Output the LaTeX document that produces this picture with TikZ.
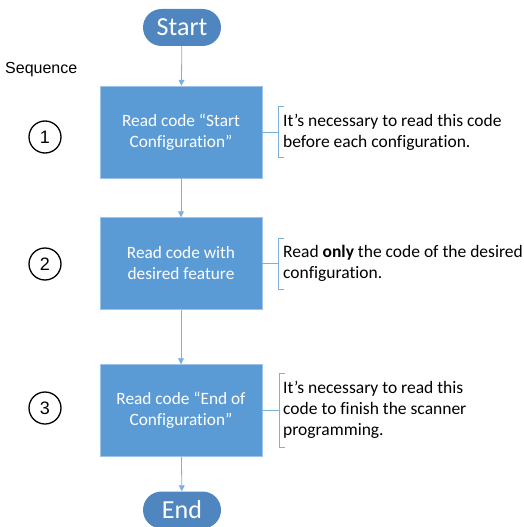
\documentclass[tikz,border=0pt]{standalone}
\usepackage{fontspec}
\setmainfont{Carlito}[Ligatures={NoCommon}]
\newfontfamily\arialf{Liberation Sans}
\usetikzlibrary{arrows.meta,shapes.misc}
\definecolor{boxblue}{HTML}{5B9BD5}
\definecolor{pillblue}{HTML}{4F86BF}
\definecolor{lineblue}{HTML}{7EB0DE}
\begin{document}
\begin{tikzpicture}[x=1pt,y=-1pt,
  stepbox/.style={draw=boxblue!60!white,fill=boxblue,text=white,minimum width=162pt,minimum height=92pt,align=center,font=\fontsize{17.3}{21}\selectfont,inner sep=0pt},
  pill/.style={rounded rectangle,fill=pillblue,text=white,minimum width=78pt,minimum height=37pt,font=\fontsize{26}{28}\selectfont,inner sep=0pt},
  seqnum/.style={circle,draw=black,line width=1.3pt,minimum size=32pt,inner sep=0pt,font=\arialf\fontsize{18}{18}\selectfont},
  note/.style={anchor=west,align=left,font=\fontsize{17.5}{21}\selectfont,inner sep=0pt},
  flow/.style={draw=lineblue,line width=0.8pt,-{Triangle[width=6pt,length=6pt]}},
  brk/.style={draw=lineblue,line width=0.8pt}]
\useasboundingbox (0,0) rectangle (523,527);
\node[pill] (start) at (182,27.5) {Start};
\node[stepbox] (s1) at (181,132) {Read code “Start\\Configuration”};
\node[stepbox] (s2) at (181,263.5) {Read code with\\desired feature};
\node[stepbox] (s3) at (181,410.5) {Read code “End of\\Configuration”};
\node[pill] (end) at (182,510) {End};
\node[anchor=west,inner sep=0pt,font=\arialf\fontsize{16}{16}\selectfont] (seq) at (5,70) {Sequence};
\node[seqnum] (n1) at (45,137) {1};
\node[seqnum] (n2) at (45,264) {2};
\node[seqnum] (n3) at (45,408) {3};
\draw[flow] (start) -- (s1);
\draw[flow] (s1) -- (s2);
\draw[flow] (s2) -- (s3);
\draw[flow] (s3) -- (end);
% brackets
\coordinate (b1) at (278,132);
\coordinate (b2) at (278,263.5);
\coordinate (b3) at (279,410.5);
\draw[brk] (s1.east) -- (b1);
\draw[brk] (284,106) -- (278,106) -- (278,157) -- (284,157);
\draw[brk] (s2.east) -- (b2);
\draw[brk] (284,238) -- (278,238) -- (278,289) -- (284,289);
\draw[brk] (s3.east) -- (b3);
\draw[brk] (285,373) -- (279,373) -- (279,447) -- (285,447);
\node[note] (t1) at (283,132) {It’s necessary to read this code\\before each configuration.};
\node[note] (t2) at (283,263.5) {Read \textbf{only} the code of the desired\\configuration.};
\node[note] (t3) at (283,410) {It’s necessary to read this\\code to finish the scanner\\programming.};
\end{tikzpicture}
\end{document}
